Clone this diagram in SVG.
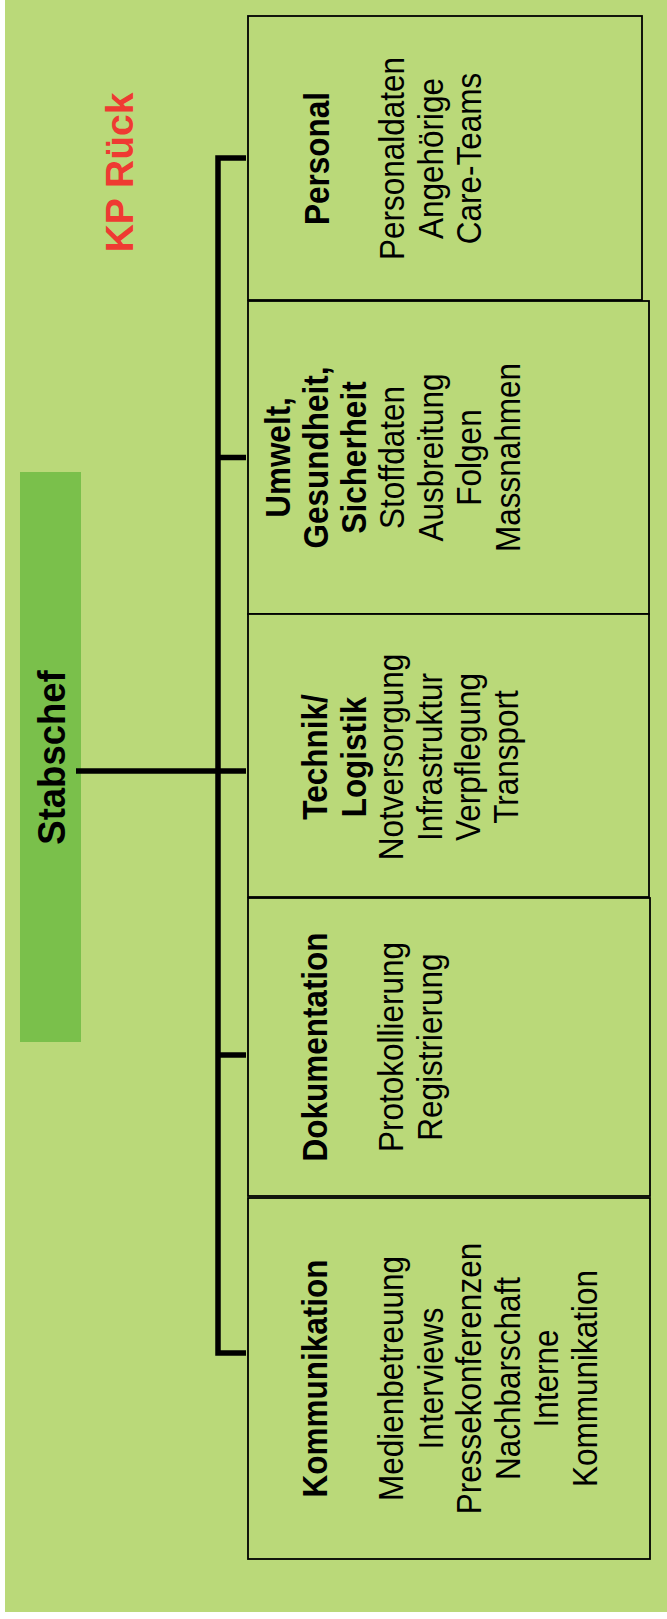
<svg xmlns="http://www.w3.org/2000/svg" width="667" height="1619" viewBox="0 0 667 1619">
  <style>
    .bg { fill: #BAD979; }
    .box { fill: #BAD979; stroke: #000; stroke-width: 1.8; }
    .chief { fill: #7AC04B; }
    .wire { fill: none; stroke: #000; stroke-width: 5.5; stroke-linejoin: miter; stroke-linecap: butt; }
    text { font-family: "Liberation Sans", Arial, sans-serif; fill: #000; text-anchor: middle; }
    .h { font-size: 31.5px; font-weight: bold; }
    .t { font-size: 31.5px; }
    .chief-label { font-size: 36.5px; font-weight: bold; }
    .title { font-size: 39px; font-weight: bold; fill: #EF3A32; }
  </style>

  <!-- page background -->
  <rect class="bg" x="5" y="0" width="662" height="1612"/>

  <!-- heading -->
  <text class="title" transform="translate(133,172.5) rotate(-90)">KP Rück</text>

  <!-- chief of staff -->
  <g id="stabschef">
    <rect class="chief" x="20" y="472" width="61" height="570"/>
    <text class="chief-label" transform="translate(65,757.5) rotate(-90) scale(1,1.07)">Stabschef</text>
  </g>

  <!-- Personal -->
  <g id="personal">
    <rect class="box" x="248" y="16" width="394" height="284"/>
    <text class="h" transform="translate(328.5,158.5) rotate(-90) scale(1,1.11)">Personal</text>
    <text class="t" transform="translate(404,158.5) rotate(-90) scale(1,1.11)">Personaldaten</text>
    <text class="t" transform="translate(442.5,158.5) rotate(-90) scale(1,1.11)">Angehörige</text>
    <text class="t" transform="translate(481,158.5) rotate(-90) scale(1,1.11)">Care-Teams</text>
  </g>

  <!-- Umwelt, Gesundheit, Sicherheit -->
  <g id="ugs">
    <rect class="box" x="248" y="301" width="401" height="313"/>
    <text class="h" transform="translate(290,457.5) rotate(-90) scale(1,1.11)">Umwelt,</text>
    <text class="h" transform="translate(328,457.5) rotate(-90) scale(1,1.11)">Gesundheit,</text>
    <text class="h" transform="translate(366,457.5) rotate(-90) scale(1,1.11)">Sicherheit</text>
    <text class="t" transform="translate(404,457.5) rotate(-90) scale(1,1.11)">Stoffdaten</text>
    <text class="t" transform="translate(442.7,457.5) rotate(-90) scale(1,1.11)">Ausbreitung</text>
    <text class="t" transform="translate(481,457.5) rotate(-90) scale(1,1.11)">Folgen</text>
    <text class="t" transform="translate(520,457.5) rotate(-90) scale(1,1.11)">Massnahmen</text>
  </g>

  <!-- Technik / Logistik -->
  <g id="technik">
    <rect class="box" x="248" y="614" width="401" height="283"/>
    <text class="h" transform="translate(327.3,757) rotate(-90) scale(1,1.11)">Technik/</text>
    <text class="h" transform="translate(366,757) rotate(-90) scale(1,1.11)">Logistik</text>
    <text class="t" transform="translate(403.3,757) rotate(-90) scale(1,1.11)">Notversorgung</text>
    <text class="t" transform="translate(441.7,757) rotate(-90) scale(1,1.11)">Infrastruktur</text>
    <text class="t" transform="translate(480,757) rotate(-90) scale(1,1.11)">Verpflegung</text>
    <text class="t" transform="translate(518,757) rotate(-90) scale(1,1.11)">Transport</text>
  </g>

  <!-- Dokumentation -->
  <g id="dokumentation">
    <rect class="box" x="248" y="898" width="402" height="298"/>
    <text class="h" transform="translate(327.3,1047) rotate(-90) scale(1,1.11)">Dokumentation</text>
    <text class="t" transform="translate(403.3,1047) rotate(-90) scale(1,1.11)">Protokollierung</text>
    <text class="t" transform="translate(441.7,1047) rotate(-90) scale(1,1.11)">Registrierung</text>
  </g>

  <!-- Kommunikation -->
  <g id="kommunikation">
    <rect class="box" x="248" y="1198" width="402" height="361"/>
    <text class="h" transform="translate(327.3,1378.5) rotate(-90) scale(1,1.11)">Kommunikation</text>
    <text class="t" transform="translate(403.3,1378.5) rotate(-90) scale(1,1.11)">Medienbetreuung</text>
    <text class="t" transform="translate(442.7,1378.5) rotate(-90) scale(1,1.11)">Interviews</text>
    <text class="t" transform="translate(481,1378.5) rotate(-90) scale(1,1.11)">Pressekonferenzen</text>
    <text class="t" transform="translate(520,1378.5) rotate(-90) scale(1,1.11)">Nachbarschaft</text>
    <text class="t" transform="translate(558.3,1378.5) rotate(-90) scale(1,1.11)">Interne</text>
    <text class="t" transform="translate(596.7,1378.5) rotate(-90) scale(1,1.11)">Kommunikation</text>
  </g>

  <!-- connectors: trunk with branch stubs, drawn over the chief box edge -->
  <g id="connectors">
    <path class="wire" d="M246,158 H218 V1353 H246"/>
    <path class="wire" d="M218,457.5 H246"/>
    <path class="wire" d="M76,771 H246"/>
    <path class="wire" d="M218,1055 H246"/>
  </g>
</svg>
